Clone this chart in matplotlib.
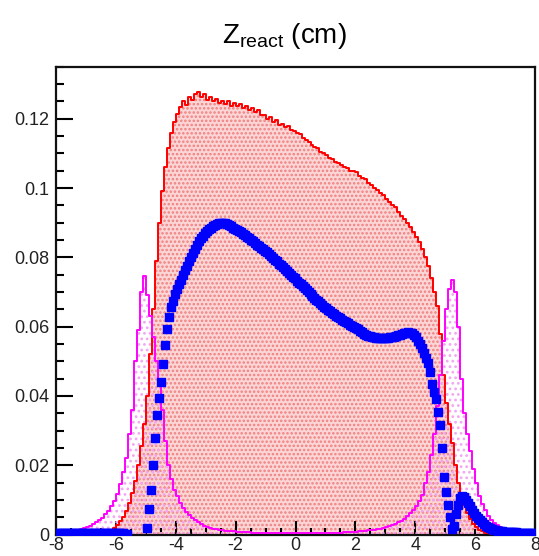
import numpy as np
import matplotlib
matplotlib.use("Agg")
from matplotlib import pyplot as plt
from matplotlib.ticker import MultipleLocator, FuncFormatter

plt.rcParams['font.family'] = ['Liberation Sans', 'DejaVu Sans']
plt.rcParams['hatch.linewidth'] = 1.2

# histogram range / binning (red + magenta: 160 bins, blue: 240 points)
x_min, x_max = -8.0, 8.0

# red histogram, one row per unit of x (bins of 0.1)
red_vals = [
    0.0001, 0.0001, 0.0001, 0.0001, 0.0001, 0.0001, 0.0001, 0.0001, 0.0001, 0.0001,
    0.0001, 0.0001, 0.0001, 0.0002, 0.0002, 0.0003, 0.0004, 0.0007, 0.0012, 0.0020,
    0.0028, 0.0038, 0.0050, 0.0068, 0.0090, 0.0120, 0.0155, 0.0200, 0.0255, 0.0320,
    0.0400, 0.0520, 0.0650, 0.0790, 0.0900, 0.0990, 0.1060, 0.1115, 0.1160, 0.1190,
    0.1215, 0.1235, 0.1250, 0.1240, 0.1262, 0.1255, 0.1270, 0.1278, 0.1262, 0.1272,
    0.1255, 0.1262, 0.1250, 0.1258, 0.1245, 0.1252, 0.1243, 0.1250, 0.1238, 0.1245,
    0.1236, 0.1243, 0.1230, 0.1238, 0.1225, 0.1232, 0.1218, 0.1225, 0.1210, 0.1212,
    0.1200, 0.1205, 0.1190, 0.1195, 0.1183, 0.1185, 0.1175, 0.1178, 0.1168, 0.1165,
    0.1158, 0.1155, 0.1145, 0.1140, 0.1132, 0.1125, 0.1118, 0.1115, 0.1105, 0.1100,
    0.1095, 0.1088, 0.1085, 0.1075, 0.1072, 0.1065, 0.1060, 0.1058, 0.1050, 0.1048,
    0.1045, 0.1035, 0.1030, 0.1025, 0.1015, 0.1010, 0.1000, 0.0995, 0.0985, 0.0980,
    0.0968, 0.0960, 0.0950, 0.0945, 0.0930, 0.0920, 0.0910, 0.0898, 0.0888, 0.0872,
    0.0860, 0.0845, 0.0825, 0.0800, 0.0775, 0.0740, 0.0700, 0.0660, 0.0580, 0.0460,
    0.0380, 0.0320, 0.0265, 0.0200, 0.0150, 0.0115, 0.0085, 0.0062, 0.0045, 0.0032,
    0.0022, 0.0014, 0.0009, 0.0006, 0.0004, 0.0002, 0.0002, 0.0001, 0.0001, 0.0001,
    0.0001, 0.0001, 0.0001, 0.0001, 0.0001, 0.0001, 0.0001, 0.0001, 0.0001, 0.0001,
]

# magenta histogram (bins of 0.1)
mag_vals = [
    0.0006, 0.0007, 0.0008, 0.0009, 0.0010, 0.0011, 0.0012, 0.0014, 0.0016, 0.0018,
    0.0021, 0.0025, 0.0030, 0.0035, 0.0041, 0.0049, 0.0058, 0.0069, 0.0082, 0.0098,
    0.0118, 0.0145, 0.0180, 0.0220, 0.0290, 0.0360, 0.0500, 0.0590, 0.0700, 0.0745,
    0.0690, 0.0630, 0.0570, 0.0500, 0.0440, 0.0360, 0.0270, 0.0200, 0.0160, 0.0130,
    0.0110, 0.0092, 0.0078, 0.0066, 0.0056, 0.0048, 0.0041, 0.0035, 0.0030, 0.0026,
    0.0022, 0.0019, 0.0017, 0.0015, 0.0013, 0.0012, 0.0011, 0.0010, 0.0009, 0.0009,
    0.0008, 0.0008, 0.0007, 0.0007, 0.0007, 0.0006, 0.0006, 0.0006, 0.0006, 0.0005,
    0.0005, 0.0005, 0.0005, 0.0005, 0.0005, 0.0005, 0.0005, 0.0005, 0.0005, 0.0005,
    0.0005, 0.0005, 0.0005, 0.0005, 0.0005, 0.0005, 0.0005, 0.0005, 0.0005, 0.0005,
    0.0005, 0.0005, 0.0006, 0.0006, 0.0006, 0.0006, 0.0007, 0.0007, 0.0007, 0.0008,
    0.0008, 0.0009, 0.0010, 0.0011, 0.0012, 0.0013, 0.0014, 0.0016, 0.0017, 0.0019,
    0.0021, 0.0024, 0.0027, 0.0031, 0.0035, 0.0040, 0.0046, 0.0053, 0.0062, 0.0072,
    0.0083, 0.0097, 0.0115, 0.0150, 0.0180, 0.0230, 0.0290, 0.0370, 0.0460, 0.0560,
    0.0650, 0.0710, 0.0735, 0.0700, 0.0600, 0.0450, 0.0350, 0.0290, 0.0240, 0.0190,
    0.0150, 0.0110, 0.0088, 0.0070, 0.0055, 0.0042, 0.0034, 0.0028, 0.0023, 0.0018,
    0.0015, 0.0013, 0.0011, 0.0010, 0.0009, 0.0008, 0.0007, 0.0007, 0.0006, 0.0006,
]

# blue points, 15 per unit of x (0 = empty bin, not drawn)
blue_vals = [
    0.0004, 0.0004, 0.0004, 0.0004, 0.0004, 0.0004, 0.0004, 0.0004, 0.0004, 0.0004, 0.0004, 0.0004, 0.0004, 0.0004, 0.0004,
    0.0004, 0.0004, 0.0004, 0.0004, 0.0004, 0.0004, 0.0004, 0.0004, 0.0004, 0.0004, 0.0004, 0.0004, 0.0004, 0.0004, 0.0004,
    0.0004, 0.0004, 0.0004, 0.0004, 0.0003, 0.0003, 0.0, 0.0, 0.0, 0.0, 0.0, 0.0, 0.0, 0.0, 0.0,
    0.0020, 0.0075, 0.0128, 0.0200, 0.0280, 0.0345, 0.0395, 0.0440, 0.0492, 0.0548, 0.0592, 0.0628, 0.0658, 0.0675, 0.0693,
    0.0708, 0.0722, 0.0736, 0.0750, 0.0763, 0.0776, 0.0789, 0.0800, 0.0812, 0.0825, 0.0836, 0.0846, 0.0855, 0.0863, 0.0870,
    0.0876, 0.0881, 0.0886, 0.0890, 0.0893, 0.0896, 0.0898, 0.0899, 0.0900, 0.0899, 0.0897, 0.0894, 0.0890, 0.0886, 0.0882,
    0.0879, 0.0876, 0.0872, 0.0868, 0.0864, 0.0859, 0.0855, 0.0850, 0.0846, 0.0841, 0.0837, 0.0832, 0.0828, 0.0824, 0.0819,
    0.0814, 0.0809, 0.0804, 0.0798, 0.0793, 0.0788, 0.0782, 0.0777, 0.0772, 0.0766, 0.0761, 0.0755, 0.0750, 0.0744, 0.0739,
    0.0733, 0.0727, 0.0722, 0.0716, 0.0711, 0.0705, 0.0700, 0.0694, 0.0689, 0.0684, 0.0678, 0.0673, 0.0668, 0.0663, 0.0658,
    0.0653, 0.0648, 0.0644, 0.0640, 0.0636, 0.0632, 0.0628, 0.0624, 0.0620, 0.0617, 0.0613, 0.0610, 0.0606, 0.0603, 0.0600,
    0.0596, 0.0592, 0.0588, 0.0584, 0.0580, 0.0577, 0.0574, 0.0572, 0.0570, 0.0569, 0.0568, 0.0567, 0.0567, 0.0567, 0.0567,
    0.0567, 0.0568, 0.0569, 0.0570, 0.0571, 0.0573, 0.0575, 0.0577, 0.0579, 0.0581, 0.0583, 0.0584, 0.0583, 0.0581, 0.0577,
    0.0570, 0.0560, 0.0549, 0.0538, 0.0525, 0.0510, 0.0495, 0.0470, 0.0435, 0.0410, 0.0390, 0.0355, 0.0315, 0.0250, 0.0165,
    0.0122, 0.0086, 0.0050, 0.0015, 0.0025, 0.0058, 0.0085, 0.0105, 0.0110, 0.0108, 0.0100, 0.0092, 0.0082, 0.0072, 0.0063,
    0.0055, 0.0048, 0.0041, 0.0035, 0.0030, 0.0025, 0.0021, 0.0018, 0.0016, 0.0014, 0.0012, 0.0011, 0.0010, 0.0009, 0.0008,
    0.0008, 0.0008, 0.0007, 0.0007, 0.0007, 0.0007, 0.0006, 0.0006, 0.0006, 0.0006, 0.0006, 0.0005, 0.0005, 0.0005, 0.0005,
]

x_ticks = [-8, -6, -4, -2, 0, 2, 4, 6, 8]
y_ticks = [0, 0.02, 0.04, 0.06, 0.08, 0.1, 0.12]

edges = np.linspace(x_min, x_max, len(red_vals) + 1)
red = np.array(red_vals)
mag = np.array(mag_vals)
red_step = np.append(red, red[-1])
mag_step = np.append(mag, mag[-1])

blue = np.array(blue_vals)
b_edges = np.linspace(x_min, x_max, len(blue) + 1)
b_x = 0.5 * (b_edges[:-1] + b_edges[1:])
keep = blue > 0

fig = plt.figure(figsize=(5.39, 5.56), dpi=100)
ax = fig.add_axes([0.104, 0.0385, 0.8886, 0.8415])

# filled histograms (dotted pattern like ROOT fill style)
ax.fill_between(edges, 0, red_step, step='post', facecolor='#fcd6d6',
                edgecolor='#f07f7f', hatch='....', linewidth=0, zorder=1)
ax.fill_between(edges, 0, mag_step, step='post', facecolor='none',
                edgecolor='#f2a6f2', hatch='...', linewidth=0, zorder=2)

ax.step(edges, red_step, where='post', color='#ff0000', lw=1.4, zorder=3)
ax.step(edges, mag_step, where='post', color='#ff00ff', lw=1.4, zorder=4)

ax.plot(b_x[keep], blue[keep], ls='none', marker='s', ms=6.3,
        mfc='#0000ff', mec='#0000ff', zorder=5)

ax.set_xlim(x_min, x_max)
ax.set_ylim(0, 0.135)

ax.set_xticks(x_ticks)
ax.set_yticks(y_ticks)
ax.xaxis.set_minor_locator(MultipleLocator(0.5))
ax.yaxis.set_minor_locator(MultipleLocator(0.005))
ax.yaxis.set_major_formatter(FuncFormatter(lambda v, p: '%g' % round(v, 3)))
ax.xaxis.set_major_formatter(FuncFormatter(lambda v, p: '%d' % v))

ax.tick_params(axis='both', which='both', direction='in', top=False, right=False,
               width=1.5, color='black', labelsize=13, labelcolor='#222222')
ax.tick_params(axis='y', which='major', length=12, pad=5)
ax.tick_params(axis='y', which='minor', length=6)
ax.tick_params(axis='x', which='major', length=10, pad=2)
ax.tick_params(axis='x', which='minor', length=5)

for s in ax.spines.values():
    s.set_linewidth(1.6)
    s.set_color('#111111')

fig.text(0.528, 0.935, r'$\mathregular{Z_{react}}$ (cm)', ha='center', va='center', fontsize=20)

fig.savefig('out.png', dpi=100)
